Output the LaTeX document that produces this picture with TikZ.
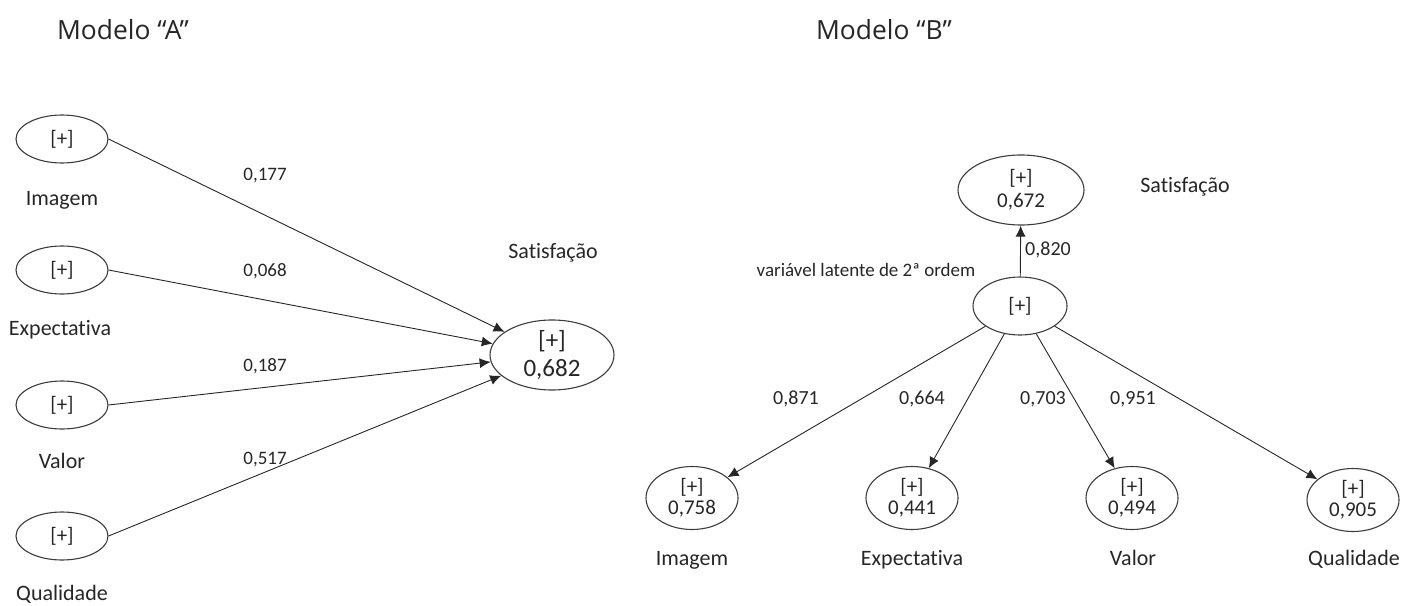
\documentclass[tikz,border=0pt]{standalone}
\usepackage{fontspec}
\setmainfont{Carlito}[Ligatures=NoCommon]
\newfontfamily\titlefont{Open Sans}
\usetikzlibrary{shapes.geometric,arrows.meta}
\definecolor{ink}{HTML}{262626}
\tikzset{
  lv/.style={draw=ink!90,ellipse,inner sep=0pt,line width=.55pt,align=center,text=ink},
  arr/.style={-{Latex[length=5.5pt,width=5pt]},line width=.45pt,draw=ink},
  lbl/.style={text=ink,inner sep=0pt}
}
\begin{document}
\begin{tikzpicture}[x=.5pt,y=-.5pt]
\useasboundingbox (0,0) rectangle (1418,605);
% Modelo A
\node[lbl,font=\titlefont\fontsize{13.2}{15}\selectfont] (titA) at (123,30) {Modelo “A”};
\node[lv,minimum width=46pt,minimum height=24pt,font=\fontsize{10.5}{12}\selectfont] (imgA) at (62,139) {[+]};
\node[lv,minimum width=46pt,minimum height=24pt,font=\fontsize{10.5}{12}\selectfont] (expA) at (62,270) {[+]};
\node[lv,minimum width=46pt,minimum height=24pt,font=\fontsize{10.5}{12}\selectfont] (valA) at (62,405) {[+]};
\node[lv,minimum width=46pt,minimum height=24pt,font=\fontsize{10.5}{12}\selectfont] (quaA) at (62,536) {[+]};
\node[lv,minimum width=62pt,minimum height=35pt,font=\fontsize{12.5}{14}\selectfont] (satA) at (552,355) {[+]\\0,682};
\node[lbl,anchor=base,font=\fontsize{11}{12}\selectfont] (imgAt) at (62,205) {Imagem};
\node[lbl,anchor=base,font=\fontsize{11}{12}\selectfont] (expAt) at (60,335) {Expectativa};
\node[lbl,anchor=base,font=\fontsize{11}{12}\selectfont] (valAt) at (62,468) {Valor};
\node[lbl,anchor=base,font=\fontsize{11}{12}\selectfont] (quaAt) at (62,600) {Qualidade};
\node[lbl,font=\fontsize{11}{12}\selectfont] (satAt) at (553,253) {Satisfação};
\draw[arr] (imgA.east) -- (satA);
\draw[arr] (expA.east) -- (satA);
\draw[arr] (valA.east) -- (satA);
\draw[arr] (quaA.east) -- (satA);
\node[lbl,font=\fontsize{9.5}{11}\selectfont] (wA1) at (265,176) {0,177};
\node[lbl,font=\fontsize{9.5}{11}\selectfont] (wA2) at (265,271) {0,068};
\node[lbl,font=\fontsize{9.5}{11}\selectfont] (wA3) at (265,366) {0,187};
\node[lbl,font=\fontsize{9.5}{11}\selectfont] (wA4) at (265,460) {0,517};
% Modelo B
\node[lbl,font=\titlefont\fontsize{13.2}{15}\selectfont] (titB) at (884,30) {Modelo “B”};
\node[lv,minimum width=63pt,minimum height=35pt,font=\fontsize{10.5}{11.5}\selectfont] (satB) at (1021,190) {[+]\\0,672};
\node[lv,minimum width=47pt,minimum height=29pt,font=\fontsize{10.5}{12}\selectfont] (lat) at (1020,306) {[+]};
\node[lv,minimum width=46pt,minimum height=31.5pt,font=\fontsize{10.5}{10.5}\selectfont] (imgB) at (692,498) {[+]\\0,758};
\node[lv,minimum width=46pt,minimum height=31.5pt,font=\fontsize{10.5}{10.5}\selectfont] (expB) at (912,498) {[+]\\0,441};
\node[lv,minimum width=46pt,minimum height=31.5pt,font=\fontsize{10.5}{10.5}\selectfont] (valB) at (1132,498) {[+]\\0,494};
\node[lv,minimum width=46pt,minimum height=31.5pt,font=\fontsize{10.5}{10.5}\selectfont] (quaB) at (1353,500) {[+]\\0,905};
\node[lbl,font=\fontsize{11}{12}\selectfont] (satBt) at (1185,187) {Satisfação};
\node[lbl,font=\fontsize{9.5}{10}\selectfont] (latt) at (866,270) {variável latente de 2ª ordem};
\node[lbl,anchor=base,font=\fontsize{11}{12}\selectfont] (imgBt) at (692,565) {Imagem};
\node[lbl,anchor=base,font=\fontsize{11}{12}\selectfont] (expBt) at (912,565) {Expectativa};
\node[lbl,anchor=base,font=\fontsize{11}{12}\selectfont] (valBt) at (1133,565) {Valor};
\node[lbl,anchor=base,font=\fontsize{11}{12}\selectfont] (quaBt) at (1354,565) {Qualidade};
\draw[arr] (lat) -- (satB);
\draw[arr] (lat) -- (imgB);
\draw[arr] (lat) -- (expB);
\draw[arr] (lat) -- (valB);
\draw[arr] (lat) -- (quaB);
\node[lbl,font=\fontsize{10}{11}\selectfont] (wB0) at (1048,250) {0,820};
\node[lbl,font=\fontsize{10}{11}\selectfont] (wB1) at (796,399) {0,871};
\node[lbl,font=\fontsize{10}{11}\selectfont] (wB2) at (922,399) {0,664};
\node[lbl,font=\fontsize{10}{11}\selectfont] (wB3) at (1043,399) {0,703};
\node[lbl,font=\fontsize{10}{11}\selectfont] (wB4) at (1133,399) {0,951};
\end{tikzpicture}
\end{document}
